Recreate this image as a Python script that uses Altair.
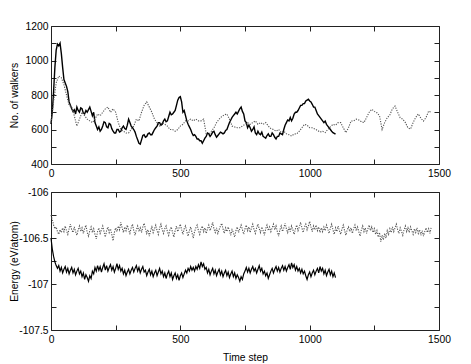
import altair as alt
import pandas as pd

# ---- data ----
t_walk_solid = list(range(0, 1101, 5))
walk_solid = [
    632, 700, 820, 960, 1060, 1095, 1085, 1100, 1040, 960,
    890, 870, 850, 820, 760, 740, 720, 705, 715, 690,
    730, 710, 700, 725, 720, 695, 690, 710, 700, 715,
    730, 705, 680, 700, 640, 620, 600, 615, 590, 600,
    620, 645, 640, 615, 610, 635, 630, 605, 590, 580,
    580, 600, 600, 585, 590, 610, 620, 605, 600, 625,
    660, 640, 620, 610, 600, 585, 560, 540, 520, 515,
    540, 565, 570, 555, 560, 575, 580, 570, 570, 585,
    600, 610, 620, 640, 640, 625, 630, 650, 660, 645,
    650, 675, 700, 685, 690, 700, 710, 740, 770, 785,
    790, 760, 700, 710, 680, 650, 630, 615, 600, 580,
    565, 570, 560, 545, 545, 535, 535, 520, 535, 550,
    560, 580, 575, 560, 570, 585, 590, 570, 555, 565,
    575, 585, 580, 575, 580, 595, 600, 620, 640, 655,
    670, 680, 690, 700, 690, 705, 720, 730, 705, 690,
    650, 640, 610, 625, 610, 590, 600, 615, 580, 570,
    590, 575, 570, 585, 560, 555, 550, 565, 575, 560,
    560, 580, 570, 555, 545, 560, 560, 580, 575, 570,
    600, 625, 640, 655, 650, 670, 650, 665, 690, 700,
    700, 710, 725, 740, 740, 750, 750, 765, 770, 775,
    765, 760, 746, 730, 730, 710, 690, 680, 670, 660,
    650, 640, 649, 630, 620, 610, 600, 590, 582, 578,
    573]

t_walk_dot = list(range(0, 1471, 10))
walk_dot = [640, 760, 870, 910, 900, 860, 800, 740, 730, 680,
            620, 660, 700, 680, 660, 650, 640, 660, 690, 680,
            700, 720, 730, 700, 720, 700, 640, 600, 590, 580,
            580, 600, 620, 660, 650, 700, 740, 760, 730, 700,
            660, 640, 620, 640, 630, 620, 600, 600, 590, 600,
            620, 630, 650, 650, 660, 650, 660, 650, 650, 660,
            575, 570, 590, 610, 640, 660, 675, 685, 690, 660,
            620, 615, 610, 610, 620, 630, 640, 630, 640, 650,
            630, 640, 630, 640, 620, 605, 600, 590, 600, 582,
            590, 575, 570, 562, 574, 575, 590, 610, 630, 625,
            610, 610, 603, 595, 585, 590, 582, 600, 615, 630,
            625, 640, 640, 610, 582, 610, 649, 650, 660, 655,
            645, 640, 670, 700, 717, 705, 697, 680, 600, 640,
            668, 685, 720, 736, 700, 668, 660, 640, 610, 603,
            640, 670, 690, 665, 649, 670, 707, 700]

t_en_solid = list(range(0, 1101, 5))
en_solid = [
    -106.50, -106.62, -106.70, -106.76, -106.80, -106.83, -106.80, -106.86, -106.82, -106.88,
    -106.84, -106.81, -106.87, -106.83, -106.89, -106.85, -106.82, -106.88, -106.84, -106.90,
    -106.86, -106.83, -106.89, -106.86, -106.92, -106.88, -106.95, -106.90, -106.93, -106.97,
    -106.91, -106.94, -106.86, -106.89, -106.82, -106.86, -106.80, -106.85, -106.81, -106.87,
    -106.82, -106.78, -106.85, -106.80, -106.86, -106.82, -106.79, -106.85, -106.81, -106.87,
    -106.83, -106.78, -106.84, -106.80, -106.86, -106.83, -106.89, -106.85, -106.91, -106.87,
    -106.84, -106.89, -106.85, -106.82, -106.87, -106.83, -106.80, -106.86, -106.82, -106.88,
    -106.84, -106.81, -106.87, -106.85, -106.91, -106.87, -106.84, -106.90, -106.86, -106.92,
    -106.88, -106.85, -106.91, -106.87, -106.83, -106.89, -106.86, -106.92, -106.88, -106.94,
    -106.89, -106.86, -106.92, -106.88, -106.95, -106.91, -106.88, -106.94, -106.90, -106.96,
    -106.91, -106.88, -106.93, -106.89, -106.85, -106.88, -106.83, -106.86, -106.81, -106.85,
    -106.82, -106.86, -106.81, -106.84, -106.79, -106.83, -106.76, -106.81, -106.78, -106.84,
    -106.82, -106.88, -106.84, -106.90, -106.86, -106.83, -106.89, -106.85, -106.91, -106.87,
    -106.84, -106.90, -106.86, -106.92, -106.88, -106.85, -106.91, -106.87, -106.93, -106.89,
    -106.86, -106.92, -106.88, -106.94, -106.90, -106.93, -106.97, -106.92, -106.95, -106.89,
    -106.86, -106.82, -106.87, -106.83, -106.88, -106.84, -106.81, -106.86, -106.83, -106.88,
    -106.84, -106.80, -106.86, -106.83, -106.89, -106.86, -106.91, -106.88, -106.94, -106.90,
    -106.86, -106.83, -106.88, -106.84, -106.81, -106.86, -106.82, -106.87, -106.83, -106.80,
    -106.85, -106.81, -106.86, -106.82, -106.79, -106.84, -106.77, -106.82, -106.79, -106.85,
    -106.81, -106.86, -106.83, -106.88, -106.84, -106.89, -106.86, -106.91, -106.95, -106.90,
    -106.87, -106.92, -106.88, -106.85, -106.90, -106.86, -106.83, -106.88, -106.81, -106.86,
    -106.83, -106.89, -106.85, -106.91, -106.87, -106.84, -106.90, -106.86, -106.92, -106.88,
    -106.93]

t_en_dot = list(range(0, 1471, 5))
en_dot = [
    -106.25, -106.30, -106.36, -106.40, -106.38, -106.43, -106.46, -106.41, -106.44, -106.39,
    -106.43, -106.37, -106.42, -106.46, -106.40, -106.35, -106.41, -106.44, -106.38, -106.43,
    -106.47, -106.41, -106.37, -106.43, -106.39, -106.45, -106.40, -106.36, -106.44, -106.48,
    -106.42, -106.38, -106.44, -106.40, -106.46, -106.51, -106.43, -106.39, -106.45, -106.41,
    -106.37, -106.43, -106.49, -106.42, -106.38, -106.44, -106.40, -106.46, -106.53, -106.44,
    -106.39, -106.43, -106.37, -106.41, -106.33, -106.39, -106.44, -106.38, -106.42, -106.36,
    -106.41, -106.45, -106.39, -106.35, -106.42, -106.47, -106.41, -106.37, -106.43, -106.39,
    -106.44, -106.38, -106.34, -106.40, -106.45, -106.41, -106.48, -106.42, -106.38, -106.44,
    -106.40, -106.36, -106.42, -106.46, -106.39, -106.35, -106.41, -106.45, -106.40, -106.37,
    -106.43, -106.47, -106.41, -106.38, -106.44, -106.49, -106.42, -106.37, -106.43, -106.39,
    -106.35, -106.41, -106.46, -106.40, -106.37, -106.43, -106.48, -106.42, -106.38, -106.44,
    -106.50, -106.43, -106.39, -106.36, -106.42, -106.46, -106.40, -106.37, -106.43, -106.39,
    -106.45, -106.40, -106.36, -106.42, -106.38, -106.33, -106.40, -106.44, -106.39, -106.45,
    -106.41, -106.37, -106.34, -106.40, -106.45, -106.39, -106.43, -106.38, -106.42, -106.47,
    -106.41, -106.44, -106.49, -106.42, -106.38, -106.44, -106.40, -106.36, -106.41, -106.46,
    -106.40, -106.36, -106.42, -106.38, -106.44, -106.39, -106.35, -106.41, -106.45, -106.39,
    -106.35, -106.40, -106.44, -106.38, -106.42, -106.47, -106.40, -106.36, -106.42, -106.38,
    -106.43, -106.39, -106.35, -106.41, -106.37, -106.43, -106.48, -106.41, -106.37, -106.43,
    -106.39, -106.34, -106.40, -106.44, -106.38, -106.43, -106.37, -106.41, -106.46, -106.40,
    -106.36, -106.42, -106.38, -106.33, -106.39, -106.44, -106.38, -106.35, -106.41, -106.37,
    -106.32, -106.38, -106.43, -106.37, -106.41, -106.36, -106.42, -106.38, -106.44, -106.39,
    -106.43, -106.38, -106.42, -106.36, -106.40, -106.45, -106.39, -106.35, -106.41, -106.46,
    -106.39, -106.43, -106.37, -106.42, -106.46, -106.40, -106.36, -106.42, -106.47, -106.41,
    -106.38, -106.43, -106.39, -106.45, -106.40, -106.36, -106.42, -106.38, -106.43, -106.48,
    -106.41, -106.37, -106.43, -106.39, -106.45, -106.40, -106.36, -106.42, -106.38, -106.44,
    -106.40, -106.46, -106.42, -106.49, -106.44, -106.54, -106.47, -106.52, -106.45, -106.50,
    -106.42, -106.46, -106.40, -106.44, -106.38, -106.43, -106.39, -106.35, -106.41, -106.45,
    -106.39, -106.43, -106.47, -106.41, -106.37, -106.43, -106.39, -106.44, -106.38, -106.42,
    -106.46, -106.40, -106.44, -106.39, -106.45, -106.41, -106.47, -106.42, -106.48, -106.43,
    -106.39, -106.44, -106.40, -106.45, -106.38]

x_ticks = [0, 250, 500, 750, 1000, 1250, 1500]
walk_ticks = [400, 500, 600, 700, 800, 900, 1000, 1100, 1200]
en_ticks = [-107.5, -107.25, -107.0, -106.75, -106.5, -106.25, -106.0]

TL = 5
W, H = 388, 138
FONT = "Liberation Sans"
FS = 10.3


def panel(ts, vs, td, vd, ydom, yticks, ytitle, ylabel_expr, xtitle, solid_w):
    ds = pd.DataFrame({"t": ts, "v": vs})
    dd = pd.DataFrame({"t": td, "v": vd})
    xs = alt.Scale(domain=[0, 1500], nice=False)
    ysc = alt.Scale(domain=ydom, nice=False, zero=False)
    xa_kwargs = dict(orient="bottom", values=x_ticks, offset=-TL, tickSize=TL,
                     domain=False, grid=False, labelFlush=False, labelOverlap=False,
                     labelPadding=4, format="d", title=xtitle,
                     labelExpr="datum.value % 500 === 0 ? datum.label : ''")
    if xtitle:
        xa_kwargs.update(titlePadding=8)
    solid = alt.Chart(ds).mark_line(color="black", strokeWidth=solid_w).encode(
        x=alt.X("t:Q", scale=xs, axis=alt.Axis(**xa_kwargs)),
        y=alt.Y("v:Q", scale=ysc, axis=alt.Axis(
            orient="left", values=yticks, offset=-TL, tickSize=TL, domain=False,
            grid=False, labelPadding=3, labelOverlap=False, labelExpr=ylabel_expr,
            title=ytitle, titlePadding=2, minExtent=35, maxExtent=35)),
    )
    dotted = alt.Chart(dd).mark_line(color="#555555", strokeWidth=1.1,
                                     strokeDash=[1.2, 1.3]).encode(
        x=alt.X("t:Q", scale=xs, axis=alt.Axis(
            orient="top", values=x_ticks, offset=-TL, tickSize=TL, domain=False,
            grid=False, labels=False, title=None)),
        y=alt.Y("v:Q", scale=ysc, axis=alt.Axis(
            orient="right", values=yticks, offset=-TL, tickSize=TL, domain=False,
            grid=False, labels=False, title=None)),
    )
    return alt.layer(solid, dotted).resolve_scale(
        x="independent", y="independent").properties(width=W, height=H)


top = panel(t_walk_solid, walk_solid, t_walk_dot, walk_dot, [400, 1200], walk_ticks,
            "No. of walkers", "datum.value % 200 === 0 ? '' + datum.value : ''", None, 1.4)
bottom = panel(t_en_solid, en_solid, t_en_dot, en_dot, [-107.5, -106.0], en_ticks,
               "Energy (eV/atom)", "datum.value % 0.5 === 0 ? '' + datum.value : ''",
               "Time step", 1.2)

chart = alt.vconcat(top, bottom, spacing=7).properties(
    padding={"left": 0, "top": 12, "right": 5, "bottom": 0}
).configure_view(stroke="#222222", strokeWidth=1).configure_axis(
    labelFont=FONT, titleFont=FONT, labelFontSize=FS, titleFontSize=FS,
    labelColor="black", titleColor="black", titleFontWeight="normal",
    tickColor="#222222", tickWidth=1
)

chart.save("out.html", embed_options={"renderer": "svg", "actions": False})
